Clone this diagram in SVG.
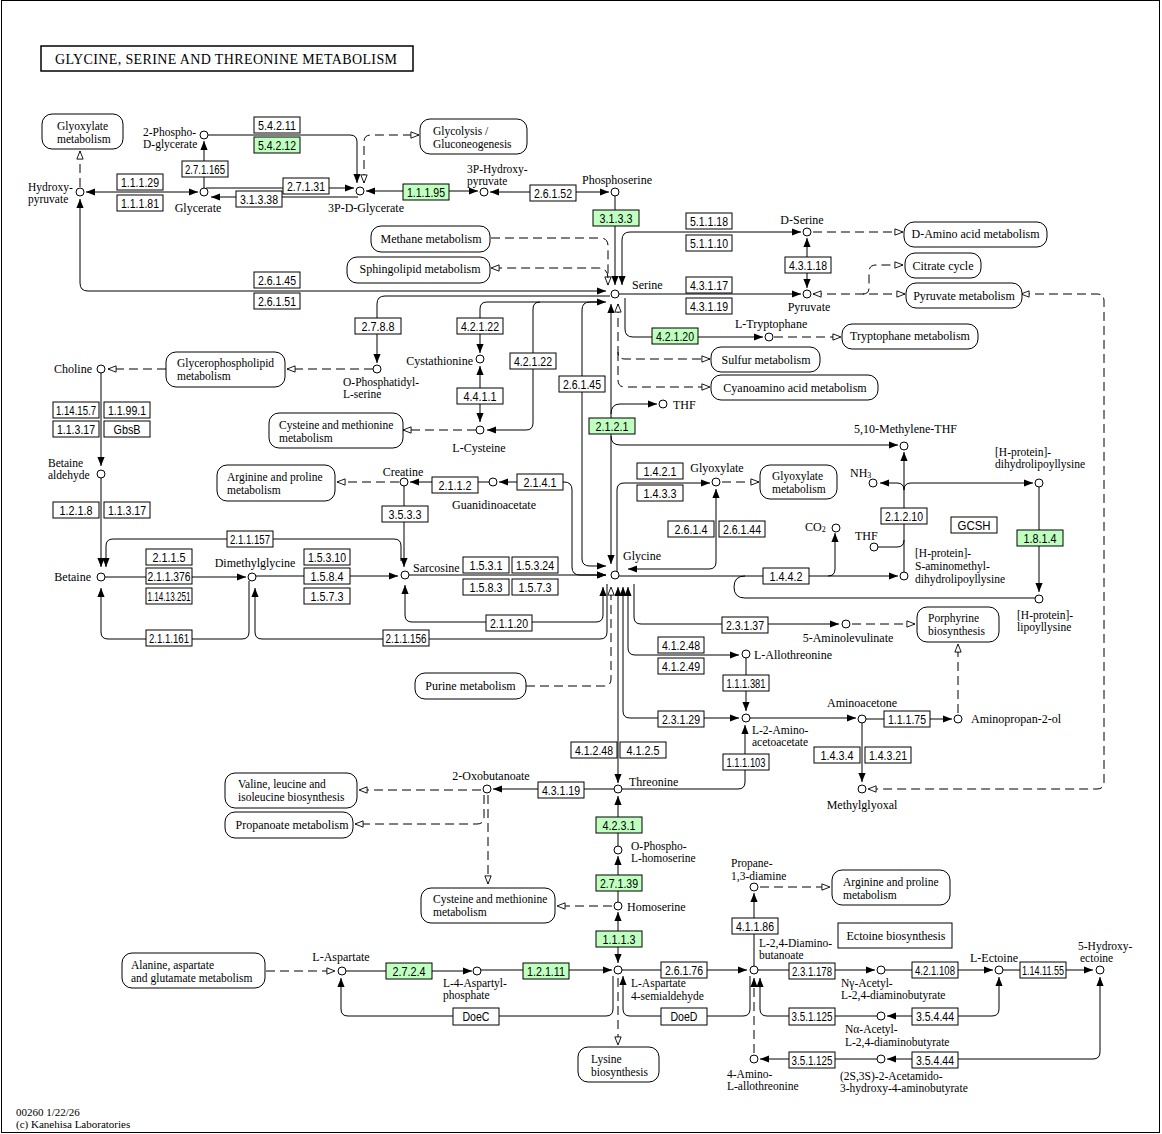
<svg xmlns="http://www.w3.org/2000/svg" width="1162" height="1134" viewBox="0 0 1162 1134">
<style>
text{font-family:"Liberation Serif","Times New Roman",serif;font-size:12px;fill:#000}
.ml{font-size:11.5px}
.et{font-family:"Liberation Sans",Arial,sans-serif;font-size:13px;text-anchor:middle}
.eb{fill:#fff;stroke:#000;stroke-width:1}
.eg{fill:#bfffbf;stroke:#000;stroke-width:1}
.mb{fill:#fff;stroke:#000;stroke-width:1}
.cc{fill:#fff;stroke:#000;stroke-width:1}
.l{fill:none;stroke:#000;stroke-width:1}
.d{fill:none;stroke:#000;stroke-width:1;stroke-dasharray:9,5}
.ae{marker-end:url(#a)}
.ab{marker-start:url(#a);marker-end:url(#a)}
.oe{marker-end:url(#o)}
.ob{marker-start:url(#o);marker-end:url(#o)}
.mid{text-anchor:middle}
.end{text-anchor:end}
.sub{font-size:8px}
.ttl{font-size:14px}
.ft{font-size:11px}
</style>
<defs>
<marker id="a" viewBox="0 0 10 8" refX="10" refY="4" markerWidth="9" markerHeight="7.2" orient="auto-start-reverse" markerUnits="userSpaceOnUse"><path d="M0,0L10,4L0,8z" fill="#000"/></marker>
<marker id="o" viewBox="0 0 10 8" refX="9.5" refY="4" markerWidth="9" markerHeight="7.2" orient="auto-start-reverse" markerUnits="userSpaceOnUse"><path d="M0.5,0.5L9.5,4L0.5,7.5z" fill="#fff" stroke="#000" stroke-width="1"/></marker>
</defs>
<rect x="0" y="0" width="1162" height="1134" fill="#fff"/>
<rect x="1.5" y="0.5" width="1158" height="1132" fill="none" stroke="#000"/>
<g id="title"><rect x="41" y="46" width="372" height="25" fill="#fff" stroke="#000" stroke-width="1.5"/><text class="ttl" x="55" y="64" textLength="342" lengthAdjust="spacing">GLYCINE, SERINE AND THREONINE METABOLISM</text></g>

<g id="connectors">
<path class="l ab" d="M86,192H198"/>
<path class="l ae" d="M204,192V141"/>
<path class="l ae" d="M204,135H350Q357,135 357,142V183"/>
<path class="l ae" d="M206,188H354"/>
<path class="l ae" d="M358,197H211"/>
<path class="l ab" d="M366,191H478"/>
<path class="l ab" d="M490,192H609"/>
<path class="l ae" d="M615,192V285"/>
<path class="l ab" d="M801,232H630Q622,232 622,240V285"/>
<path class="d oe" d="M491,238H600Q608,238 608,246V285"/>
<path class="d oe" d="M608,278Q608,268 598,268H491"/>
<path class="l ab" d="M80,199V283Q80,291 88,291H606"/>
<path class="l ae" d="M610,296H385Q377,296 377,304V363"/>
<path class="l ab" d="M606,302H540Q533,302 533,309V423Q533,430 526,430H487"/>
<path class="l ae" d="M540,302H487Q480,302 480,309V353"/>
<path class="l ab" d="M480,366V422"/>
<path class="d oe" d="M476,430H403"/>
<path class="l ae" d="M600,302H590Q582,302 582,310V559Q582,566 590,566H606"/>
<path class="l ab" d="M611,304V564"/>
<path class="l ae" d="M611,414Q611,404 620,404H657"/>
<path class="l ae" d="M611,436Q611,445 620,445H898"/>
<path class="d ob" d="M618,304V352Q618,359 625,359H710"/>
<path class="d oe" d="M618,352V380Q618,387 625,387H710"/>
<path class="l ae" d="M625,298V329Q625,337 633,337H763"/>
<path class="d oe" d="M774,337H841"/>
<path class="l ae" d="M619,294H801"/>
<path class="l ab" d="M807,238V288"/>
<path class="d oe" d="M813,232H903"/>
<path class="d ob" d="M813,294H905"/>
<path class="d oe" d="M863,294Q869,294 869,288V272Q869,265 876,265H903"/>
<path class="d ob" d="M1021,294H1097Q1104,294 1104,301V782Q1104,789 1097,789H868"/>
<path class="d oe" d="M166,369H108"/>
<path class="d oe" d="M373,369H287"/>
<path class="l ae" d="M101,369V466"/>
<path class="l ae" d="M101,474V567"/>
<path class="l ae" d="M401,561V546Q401,539 394,539H113Q106,539 106,546V567"/>
<path class="l ae" d="M404,482V567"/>
<path class="l ae" d="M493,482H410"/>
<path class="d oe" d="M399,482H337"/>
<path class="l ab" d="M499,482H564Q572,482 572,490V567Q572,575 580,575H606"/>
<path class="l ae" d="M101,577H246"/>
<path class="l ae" d="M252,576H398"/>
<path class="l ae" d="M405,575H606"/>
<path class="l ae" d="M249,581V632Q249,639 242,639H108Q101,639 101,632V588"/>
<path class="l ae" d="M607,584V632Q607,639 600,639H262Q255,639 255,632V588"/>
<path class="l ab" d="M405,585V615Q405,622 412,622H596Q603,622 603,615V587"/>
<path class="d oe" d="M526,686H604Q611,686 611,679V587"/>
<path class="l ab" d="M618,587V783"/>
<path class="l ab" d="M623,587V711Q623,718 630,718H739"/>
<path class="l ab" d="M628,587V648Q628,655 635,655H739"/>
<path class="l ae" d="M634,584V617Q634,624 641,624H839"/>
<path class="d oe" d="M852,624H915"/>
<path class="d oe" d="M958,713V644"/>
<path class="l ae" d="M746,654V711"/>
<path class="l ae" d="M618,789H738Q745,789 745,782V725"/>
<path class="l ae" d="M746,718H856"/>
<path class="l ae" d="M862,719H952"/>
<path class="l ae" d="M862,719V782"/>
<path class="l ae" d="M618,789H493"/>
<path class="d oe" d="M481,790H359"/>
<path class="d oe" d="M484,795V817Q484,824 477,824H355"/>
<path class="d oe" d="M488,795V884"/>
<path class="l ae" d="M618,850V796"/>
<path class="l ae" d="M618,906V856"/>
<path class="d oe" d="M612,906H557"/>
<path class="l ab" d="M618,912V963"/>
<path class="l ae" d="M342,971H472"/>
<path class="l ae" d="M477,970H612"/>
<path class="d oe" d="M266,971H335"/>
<path class="l ae" d="M613,976V1009Q613,1016 606,1016H348Q341,1016 341,1009V978"/>
<path class="l ae" d="M750,976V1009Q750,1016 743,1016H630Q623,1016 623,1009V976"/>
<path class="d oe" d="M618,978V1045"/>
<path class="l ae" d="M618,970H747"/>
<path class="l ae" d="M754,970V893"/>
<path class="d oe" d="M760,887H830"/>
<path class="l ae" d="M754,970H875"/>
<path class="l ae" d="M881,970H993"/>
<path class="l ae" d="M999,970H1093"/>
<path class="l ab" d="M999,977V1009Q999,1016 992,1016H887"/>
<path class="l ae" d="M881,1016H767Q760,1016 760,1009V978"/>
<path class="d ae" d="M754,1053V978"/>
<path class="l ae" d="M881,1059H760"/>
<path class="l ab" d="M1100,977V1052Q1100,1059 1093,1059H887"/>
<path class="l ae" d="M617,572V490Q617,483 624,483H710"/>
<path class="l ab" d="M716,489V562Q716,569 709,569H628"/>
<path class="d oe" d="M722,482H759"/>
<path class="l ae" d="M615,576H898"/>
<path class="l ae" d="M828,576Q835,576 835,569V533"/>
<path class="l" d="M1039,598H745Q734,598 734,587Q734,576 745,576"/>
<path class="l ae" d="M904,576V452"/>
<path class="l ae" d="M904,490Q904,483 897,483H880"/>
<path class="l ae" d="M904,490Q904,483 911,483H1033"/>
<path class="l" d="M874,547H897Q904,547 904,540"/>
<path class="l ae" d="M1039,483V592"/>
<path class="d oe" d="M80,187V151"/>
<path class="d ob" d="M364,183V142Q364,135 371,135H419"/>
</g>

<g id="maps">
<g id="m-glyoxylate-1"><rect class="mb" x="42" y="114" width="81" height="35" rx="10"/><text class="ml" x="57" y="130.1">Glyoxylate<tspan x="57" dy="12.8">metabolism</tspan></text></g>
<g id="m-glycolysis"><rect class="mb" x="420" y="119" width="107" height="35" rx="10"/><text class="ml" x="433" y="135.4">Glycolysis /<tspan x="433" dy="12.8">Gluconeogenesis</tspan></text></g>
<g id="m-methane"><rect class="mb" x="371" y="226" width="119" height="26" rx="10"/><text class="mid" x="431" y="243">Methane metabolism</text></g>
<g id="m-sphingolipid"><rect class="mb" x="347" y="257" width="143" height="26" rx="10"/><text class="mid" x="420" y="273">Sphingolipid metabolism</text></g>
<g id="m-damino"><rect class="mb" x="904" y="222" width="143" height="25" rx="10"/><text class="mid" x="975.5" y="238">D-Amino acid metabolism</text></g>
<g id="m-citrate"><rect class="mb" x="905" y="253" width="76" height="25" rx="10"/><text class="mid" x="943" y="269.5">Citrate cycle</text></g>
<g id="m-pyruvate"><rect class="mb" x="906" y="283" width="116" height="25" rx="10"/><text class="mid" x="964" y="299.5">Pyruvate metabolism</text></g>
<g id="m-tryptophane"><rect class="mb" x="842" y="324" width="136" height="25" rx="10"/><text class="mid" x="910" y="340">Tryptophane metabolism</text></g>
<g id="m-sulfur"><rect class="mb" x="711" y="347" width="109" height="25" rx="10"/><text class="mid" x="766" y="363.5">Sulfur metabolism</text></g>
<g id="m-cyanoamino"><rect class="mb" x="711" y="375" width="167" height="25" rx="10"/><text class="mid" x="795" y="392">Cyanoamino acid metabolism</text></g>
<g id="m-glycerophospholipid"><rect class="mb" x="166" y="352" width="119" height="35" rx="10"/><text class="ml" x="177" y="367.1">Glycerophospholipid<tspan x="177" dy="12.8">metabolism</tspan></text></g>
<g id="m-cysmet-1"><rect class="mb" x="269" y="413" width="134" height="35" rx="10"/><text class="ml" x="279" y="428.9">Cysteine and methionine<tspan x="279" dy="12.8">metabolism</tspan></text></g>
<g id="m-arginine-1"><rect class="mb" x="217" y="465" width="118" height="36" rx="10"/><text class="ml" x="227" y="480.9">Arginine and proline<tspan x="227" dy="12.8">metabolism</tspan></text></g>
<g id="m-glyoxylate-2"><rect class="mb" x="760" y="465" width="77" height="34" rx="10"/><text class="ml" x="772" y="480.1">Glyoxylate<tspan x="772" dy="12.8">metabolism</tspan></text></g>
<g id="m-porphyrine"><rect class="mb" x="917" y="607" width="82" height="35" rx="10"/><text class="ml" x="928" y="622.4">Porphyrine<tspan x="928" dy="12.8">biosynthesis</tspan></text></g>
<g id="m-purine"><rect class="mb" x="415" y="673" width="111" height="26" rx="10"/><text class="mid" x="470.5" y="690">Purine metabolism</text></g>
<g id="m-valine"><rect class="mb" x="225" y="773" width="132" height="35" rx="10"/><text class="ml" x="238" y="788.1">Valine, leucine and<tspan x="238" dy="12.8">isoleucine biosynthesis</tspan></text></g>
<g id="m-propanoate"><rect class="mb" x="225" y="812" width="128" height="26" rx="10"/><text class="mid" x="292" y="829">Propanoate metabolism</text></g>
<g id="m-cysmet-2"><rect class="mb" x="421" y="888" width="134" height="35" rx="10"/><text class="ml" x="433" y="903.1">Cysteine and methionine<tspan x="433" dy="12.8">metabolism</tspan></text></g>
<g id="m-arginine-2"><rect class="mb" x="832" y="870" width="118" height="35" rx="10"/><text class="ml" x="843" y="885.9">Arginine and proline<tspan x="843" dy="12.8">metabolism</tspan></text></g>
<g id="m-ectoine"><rect class="mb" x="838" y="923" width="114" height="25"/><text class="mid" x="896" y="939.5">Ectoine biosynthesis</text></g>
<g id="m-alanine"><rect class="mb" x="122" y="953" width="143" height="35" rx="10"/><text class="ml" x="131" y="969.1">Alanine, aspartate<tspan x="131" dy="12.8">and glutamate metabolism</tspan></text></g>
<g id="m-lysine"><rect class="mb" x="578" y="1047" width="81" height="35" rx="10"/><text class="ml" x="591" y="1063.1">Lysine<tspan x="591" dy="12.8">biosynthesis</tspan></text></g>
</g>

<g id="enzymes">
<g id="e1"><rect class="eb" x="254" y="117" width="46" height="16"/><text class="et" x="277" y="129.5" textLength="38" lengthAdjust="spacingAndGlyphs">5.4.2.11</text></g>
<g id="e2"><rect class="eg" x="254" y="137" width="46" height="16"/><text class="et" x="277" y="149.5" textLength="38" lengthAdjust="spacingAndGlyphs">5.4.2.12</text></g>
<g id="e3"><rect class="eb" x="182" y="161" width="46" height="16"/><text class="et" x="205" y="173.5" textLength="40" lengthAdjust="spacingAndGlyphs">2.7.1.165</text></g>
<g id="e4"><rect class="eb" x="117" y="174" width="46" height="16"/><text class="et" x="140" y="186.5" textLength="38" lengthAdjust="spacingAndGlyphs">1.1.1.29</text></g>
<g id="e5"><rect class="eb" x="117" y="195" width="46" height="16"/><text class="et" x="140" y="207.5" textLength="38" lengthAdjust="spacingAndGlyphs">1.1.1.81</text></g>
<g id="e6"><rect class="eb" x="283" y="178" width="46" height="16"/><text class="et" x="306" y="190.5" textLength="38" lengthAdjust="spacingAndGlyphs">2.7.1.31</text></g>
<g id="e7"><rect class="eb" x="236" y="191" width="46" height="16"/><text class="et" x="259" y="203.5" textLength="38" lengthAdjust="spacingAndGlyphs">3.1.3.38</text></g>
<g id="e8"><rect class="eg" x="403" y="184" width="46" height="16"/><text class="et" x="426" y="196.5" textLength="38" lengthAdjust="spacingAndGlyphs">1.1.1.95</text></g>
<g id="e9"><rect class="eb" x="530" y="185" width="46" height="16"/><text class="et" x="553" y="197.5" textLength="38" lengthAdjust="spacingAndGlyphs">2.6.1.52</text></g>
<g id="e10"><rect class="eg" x="593" y="210" width="46" height="16"/><text class="et" x="616" y="222.5" textLength="33" lengthAdjust="spacingAndGlyphs">3.1.3.3</text></g>
<g id="e11"><rect class="eb" x="686" y="213" width="46" height="16"/><text class="et" x="709" y="225.5" textLength="38" lengthAdjust="spacingAndGlyphs">5.1.1.18</text></g>
<g id="e12"><rect class="eb" x="686" y="235" width="46" height="16"/><text class="et" x="709" y="247.5" textLength="38" lengthAdjust="spacingAndGlyphs">5.1.1.10</text></g>
<g id="e13"><rect class="eb" x="785" y="257" width="46" height="16"/><text class="et" x="808" y="269.5" textLength="38" lengthAdjust="spacingAndGlyphs">4.3.1.18</text></g>
<g id="e14"><rect class="eb" x="686" y="277" width="46" height="16"/><text class="et" x="709" y="289.5" textLength="38" lengthAdjust="spacingAndGlyphs">4.3.1.17</text></g>
<g id="e15"><rect class="eb" x="686" y="298" width="46" height="16"/><text class="et" x="709" y="310.5" textLength="38" lengthAdjust="spacingAndGlyphs">4.3.1.19</text></g>
<g id="e16"><rect class="eb" x="254" y="272" width="46" height="16"/><text class="et" x="277" y="284.5" textLength="38" lengthAdjust="spacingAndGlyphs">2.6.1.45</text></g>
<g id="e17"><rect class="eb" x="254" y="293" width="46" height="16"/><text class="et" x="277" y="305.5" textLength="38" lengthAdjust="spacingAndGlyphs">2.6.1.51</text></g>
<g id="e18"><rect class="eb" x="355" y="318" width="46" height="16"/><text class="et" x="378" y="330.5" textLength="33" lengthAdjust="spacingAndGlyphs">2.7.8.8</text></g>
<g id="e19"><rect class="eb" x="457" y="318" width="46" height="16"/><text class="et" x="480" y="330.5" textLength="38" lengthAdjust="spacingAndGlyphs">4.2.1.22</text></g>
<g id="e20"><rect class="eg" x="652" y="328" width="46" height="16"/><text class="et" x="675" y="340.5" textLength="38" lengthAdjust="spacingAndGlyphs">4.2.1.20</text></g>
<g id="e21"><rect class="eb" x="510" y="353" width="46" height="16"/><text class="et" x="533" y="365.5" textLength="38" lengthAdjust="spacingAndGlyphs">4.2.1.22</text></g>
<g id="e22"><rect class="eb" x="457" y="388" width="46" height="16"/><text class="et" x="480" y="400.5" textLength="33" lengthAdjust="spacingAndGlyphs">4.4.1.1</text></g>
<g id="e23"><rect class="eb" x="559" y="376" width="46" height="16"/><text class="et" x="582" y="388.5" textLength="38" lengthAdjust="spacingAndGlyphs">2.6.1.45</text></g>
<g id="e24"><rect class="eg" x="589" y="418" width="46" height="16"/><text class="et" x="612" y="430.5" textLength="33" lengthAdjust="spacingAndGlyphs">2.1.2.1</text></g>
<g id="e25"><rect class="eb" x="53" y="402" width="46" height="16"/><text class="et" x="76" y="414.5" textLength="40" lengthAdjust="spacingAndGlyphs">1.14.15.7</text></g>
<g id="e26"><rect class="eb" x="104" y="402" width="46" height="16"/><text class="et" x="127" y="414.5" textLength="38" lengthAdjust="spacingAndGlyphs">1.1.99.1</text></g>
<g id="e27"><rect class="eb" x="53" y="421" width="46" height="16"/><text class="et" x="76" y="433.5" textLength="38" lengthAdjust="spacingAndGlyphs">1.1.3.17</text></g>
<g id="e28"><rect class="eb" x="104" y="421" width="46" height="16"/><text class="et" x="127" y="433.5" textLength="27" lengthAdjust="spacingAndGlyphs">GbsB</text></g>
<g id="e29"><rect class="eb" x="53" y="502" width="46" height="16"/><text class="et" x="76" y="514.5" textLength="33" lengthAdjust="spacingAndGlyphs">1.2.1.8</text></g>
<g id="e30"><rect class="eb" x="104" y="502" width="46" height="16"/><text class="et" x="127" y="514.5" textLength="38" lengthAdjust="spacingAndGlyphs">1.1.3.17</text></g>
<g id="e31"><rect class="eb" x="432" y="477" width="46" height="16"/><text class="et" x="455" y="489.5" textLength="33" lengthAdjust="spacingAndGlyphs">2.1.1.2</text></g>
<g id="e32"><rect class="eb" x="517" y="474" width="46" height="16"/><text class="et" x="540" y="486.5" textLength="33" lengthAdjust="spacingAndGlyphs">2.1.4.1</text></g>
<g id="e33"><rect class="eb" x="382" y="506" width="46" height="16"/><text class="et" x="405" y="518.5" textLength="33" lengthAdjust="spacingAndGlyphs">3.5.3.3</text></g>
<g id="e34"><rect class="eb" x="637" y="463" width="46" height="16"/><text class="et" x="660" y="475.5" textLength="33" lengthAdjust="spacingAndGlyphs">1.4.2.1</text></g>
<g id="e35"><rect class="eb" x="637" y="485" width="46" height="16"/><text class="et" x="660" y="497.5" textLength="33" lengthAdjust="spacingAndGlyphs">1.4.3.3</text></g>
<g id="e36"><rect class="eb" x="668" y="521" width="46" height="16"/><text class="et" x="691" y="533.5" textLength="33" lengthAdjust="spacingAndGlyphs">2.6.1.4</text></g>
<g id="e37"><rect class="eb" x="719" y="521" width="46" height="16"/><text class="et" x="742" y="533.5" textLength="38" lengthAdjust="spacingAndGlyphs">2.6.1.44</text></g>
<g id="e38"><rect class="eb" x="881" y="508" width="46" height="16"/><text class="et" x="904" y="520.5" textLength="38" lengthAdjust="spacingAndGlyphs">2.1.2.10</text></g>
<g id="e39"><rect class="eb" x="951" y="517" width="46" height="16"/><text class="et" x="974" y="529.5" textLength="33" lengthAdjust="spacingAndGlyphs">GCSH</text></g>
<g id="e40"><rect class="eg" x="1017" y="530" width="46" height="16"/><text class="et" x="1040" y="542.5" textLength="33" lengthAdjust="spacingAndGlyphs">1.8.1.4</text></g>
<g id="e41"><rect class="eb" x="227" y="531" width="46" height="16"/><text class="et" x="250" y="543.5" textLength="40" lengthAdjust="spacingAndGlyphs">2.1.1.157</text></g>
<g id="e42"><rect class="eb" x="146" y="549" width="46" height="16"/><text class="et" x="169" y="561.5" textLength="33" lengthAdjust="spacingAndGlyphs">2.1.1.5</text></g>
<g id="e43"><rect class="eb" x="146" y="568" width="46" height="16"/><text class="et" x="169" y="580.5" textLength="43" lengthAdjust="spacingAndGlyphs">2.1.1.376</text></g>
<g id="e44"><rect class="eb" x="146" y="588" width="46" height="16"/><text class="et" x="169" y="600.5" textLength="43" lengthAdjust="spacingAndGlyphs">1.14.13.251</text></g>
<g id="e45"><rect class="eb" x="304" y="549" width="46" height="16"/><text class="et" x="327" y="561.5" textLength="38" lengthAdjust="spacingAndGlyphs">1.5.3.10</text></g>
<g id="e46"><rect class="eb" x="304" y="568" width="46" height="16"/><text class="et" x="327" y="580.5" textLength="33" lengthAdjust="spacingAndGlyphs">1.5.8.4</text></g>
<g id="e47"><rect class="eb" x="304" y="588" width="46" height="16"/><text class="et" x="327" y="600.5" textLength="33" lengthAdjust="spacingAndGlyphs">1.5.7.3</text></g>
<g id="e48"><rect class="eb" x="463" y="557" width="46" height="16"/><text class="et" x="486" y="569.5" textLength="33" lengthAdjust="spacingAndGlyphs">1.5.3.1</text></g>
<g id="e49"><rect class="eb" x="512" y="557" width="46" height="16"/><text class="et" x="535" y="569.5" textLength="38" lengthAdjust="spacingAndGlyphs">1.5.3.24</text></g>
<g id="e50"><rect class="eb" x="463" y="579" width="46" height="16"/><text class="et" x="486" y="591.5" textLength="33" lengthAdjust="spacingAndGlyphs">1.5.8.3</text></g>
<g id="e51"><rect class="eb" x="512" y="579" width="46" height="16"/><text class="et" x="535" y="591.5" textLength="33" lengthAdjust="spacingAndGlyphs">1.5.7.3</text></g>
<g id="e52"><rect class="eb" x="763" y="568" width="46" height="16"/><text class="et" x="786" y="580.5" textLength="33" lengthAdjust="spacingAndGlyphs">1.4.4.2</text></g>
<g id="e53"><rect class="eb" x="486" y="615" width="46" height="16"/><text class="et" x="509" y="627.5" textLength="38" lengthAdjust="spacingAndGlyphs">2.1.1.20</text></g>
<g id="e54"><rect class="eb" x="146" y="630" width="46" height="16"/><text class="et" x="169" y="642.5" textLength="40" lengthAdjust="spacingAndGlyphs">2.1.1.161</text></g>
<g id="e55"><rect class="eb" x="383" y="630" width="46" height="16"/><text class="et" x="406" y="642.5" textLength="41" lengthAdjust="spacingAndGlyphs">2.1.1.156</text></g>
<g id="e56"><rect class="eb" x="722" y="617" width="46" height="16"/><text class="et" x="745" y="629.5" textLength="38" lengthAdjust="spacingAndGlyphs">2.3.1.37</text></g>
<g id="e57"><rect class="eb" x="658" y="637" width="46" height="16"/><text class="et" x="681" y="649.5" textLength="38" lengthAdjust="spacingAndGlyphs">4.1.2.48</text></g>
<g id="e58"><rect class="eb" x="658" y="658" width="46" height="16"/><text class="et" x="681" y="670.5" textLength="38" lengthAdjust="spacingAndGlyphs">4.1.2.49</text></g>
<g id="e59"><rect class="eb" x="723" y="675" width="46" height="16"/><text class="et" x="746" y="687.5" textLength="39" lengthAdjust="spacingAndGlyphs">1.1.1.381</text></g>
<g id="e60"><rect class="eb" x="658" y="711" width="46" height="16"/><text class="et" x="681" y="723.5" textLength="38" lengthAdjust="spacingAndGlyphs">2.3.1.29</text></g>
<g id="e61"><rect class="eb" x="884" y="711" width="46" height="16"/><text class="et" x="907" y="723.5" textLength="38" lengthAdjust="spacingAndGlyphs">1.1.1.75</text></g>
<g id="e62"><rect class="eb" x="571" y="742" width="46" height="16"/><text class="et" x="594" y="754.5" textLength="38" lengthAdjust="spacingAndGlyphs">4.1.2.48</text></g>
<g id="e63"><rect class="eb" x="620" y="742" width="46" height="16"/><text class="et" x="643" y="754.5" textLength="33" lengthAdjust="spacingAndGlyphs">4.1.2.5</text></g>
<g id="e64"><rect class="eb" x="814" y="747" width="46" height="16"/><text class="et" x="837" y="759.5" textLength="33" lengthAdjust="spacingAndGlyphs">1.4.3.4</text></g>
<g id="e65"><rect class="eb" x="865" y="747" width="46" height="16"/><text class="et" x="888" y="759.5" textLength="38" lengthAdjust="spacingAndGlyphs">1.4.3.21</text></g>
<g id="e66"><rect class="eb" x="723" y="754" width="46" height="16"/><text class="et" x="746" y="766.5" textLength="39" lengthAdjust="spacingAndGlyphs">1.1.1.103</text></g>
<g id="e67"><rect class="eb" x="538" y="782" width="46" height="16"/><text class="et" x="561" y="794.5" textLength="38" lengthAdjust="spacingAndGlyphs">4.3.1.19</text></g>
<g id="e68"><rect class="eg" x="596" y="817" width="46" height="16"/><text class="et" x="619" y="829.5" textLength="33" lengthAdjust="spacingAndGlyphs">4.2.3.1</text></g>
<g id="e69"><rect class="eg" x="596" y="875" width="46" height="16"/><text class="et" x="619" y="887.5" textLength="38" lengthAdjust="spacingAndGlyphs">2.7.1.39</text></g>
<g id="e70"><rect class="eb" x="732" y="918" width="46" height="16"/><text class="et" x="755" y="930.5" textLength="38" lengthAdjust="spacingAndGlyphs">4.1.1.86</text></g>
<g id="e71"><rect class="eg" x="596" y="931" width="46" height="16"/><text class="et" x="619" y="943.5" textLength="33" lengthAdjust="spacingAndGlyphs">1.1.1.3</text></g>
<g id="e72"><rect class="eg" x="386" y="963" width="46" height="16"/><text class="et" x="409" y="975.5" textLength="33" lengthAdjust="spacingAndGlyphs">2.7.2.4</text></g>
<g id="e73"><rect class="eg" x="523" y="963" width="46" height="16"/><text class="et" x="546" y="975.5" textLength="38" lengthAdjust="spacingAndGlyphs">1.2.1.11</text></g>
<g id="e74"><rect class="eb" x="661" y="962" width="46" height="16"/><text class="et" x="684" y="974.5" textLength="38" lengthAdjust="spacingAndGlyphs">2.6.1.76</text></g>
<g id="e75"><rect class="eb" x="789" y="963" width="46" height="16"/><text class="et" x="812" y="975.5" textLength="40" lengthAdjust="spacingAndGlyphs">2.3.1.178</text></g>
<g id="e76"><rect class="eb" x="912" y="962" width="46" height="16"/><text class="et" x="935" y="974.5" textLength="40" lengthAdjust="spacingAndGlyphs">4.2.1.108</text></g>
<g id="e77"><rect class="eb" x="1020" y="962" width="46" height="16"/><text class="et" x="1043" y="974.5" textLength="42" lengthAdjust="spacingAndGlyphs">1.14.11.55</text></g>
<g id="e78"><rect class="eb" x="453" y="1008" width="46" height="17"/><text class="et" x="476" y="1021" textLength="27" lengthAdjust="spacingAndGlyphs">DoeC</text></g>
<g id="e79"><rect class="eb" x="661" y="1008" width="46" height="17"/><text class="et" x="684" y="1021" textLength="27" lengthAdjust="spacingAndGlyphs">DoeD</text></g>
<g id="e80"><rect class="eb" x="789" y="1008" width="46" height="17"/><text class="et" x="812" y="1021" textLength="41" lengthAdjust="spacingAndGlyphs">3.5.1.125</text></g>
<g id="e81"><rect class="eb" x="912" y="1008" width="46" height="17"/><text class="et" x="935" y="1021" textLength="38" lengthAdjust="spacingAndGlyphs">3.5.4.44</text></g>
<g id="e82"><rect class="eb" x="789" y="1052" width="46" height="16"/><text class="et" x="812" y="1064.5" textLength="41" lengthAdjust="spacingAndGlyphs">3.5.1.125</text></g>
<g id="e83"><rect class="eb" x="912" y="1052" width="46" height="16"/><text class="et" x="935" y="1064.5" textLength="38" lengthAdjust="spacingAndGlyphs">3.5.4.44</text></g>
</g>

<g id="compounds">
<g id="c-hydroxypyruvate"><circle class="cc" cx="80" cy="192" r="4"/><text class="ml" x="28" y="190.6">Hydroxy-<tspan x="28" dy="12.8">pyruvate</tspan></text></g>
<g id="c-glycerate"><circle class="cc" cx="204" cy="192" r="4"/><text class="mid" x="198" y="212">Glycerate</text></g>
<g id="c-2pg"><circle class="cc" cx="204" cy="135" r="4"/><text class="ml" x="143" y="135.6">2-Phospho-<tspan x="143" dy="12.8">D-glycerate</tspan></text></g>
<g id="c-3pg"><circle class="cc" cx="360" cy="191" r="4"/><text class="mid" x="366" y="212">3P-D-Glycerate</text></g>
<g id="c-3php"><circle class="cc" cx="484" cy="192" r="4"/><text class="ml" x="467" y="172.6">3P-Hydroxy-<tspan x="467" dy="12.8">pyruvate</tspan></text></g>
<g id="c-phosphoserine"><circle class="cc" cx="615" cy="192" r="4"/><text class="mid" x="617" y="184">Phosphoserine</text></g>
<g id="c-serine"><circle class="cc" cx="615" cy="294" r="4"/><text x="632" y="289">Serine</text></g>
<g id="c-dserine"><circle class="cc" cx="807" cy="232" r="4"/><text class="mid" x="802" y="224">D-Serine</text></g>
<g id="c-pyruvate"><circle class="cc" cx="807" cy="294" r="4"/><text class="mid" x="809" y="311">Pyruvate</text></g>
<g id="c-ltrp"><circle class="cc" cx="769" cy="337" r="4"/><text x="735" y="328">L-Tryptophane</text></g>
<g id="c-thf1"><circle class="cc" cx="663" cy="404" r="4"/><text x="673" y="409">THF</text></g>
<g id="c-mthf"><circle class="cc" cx="904" cy="446" r="4"/><text x="854" y="433">5,10-Methylene-THF</text></g>
<g id="c-nh3"><circle class="cc" cx="873" cy="483" r="4"/><text x="850" y="477">NH<tspan class="sub" dy="1">3</tspan></text></g>
<g id="c-dihydrolipoyl"><circle class="cc" cx="1039" cy="483" r="4"/><text class="ml" x="995" y="455.6">[H-protein]-<tspan x="995" dy="12.8">dihydrolipoyllysine</tspan></text></g>
<g id="c-co2"><circle class="cc" cx="836" cy="528" r="4"/><text x="805" y="531">CO<tspan class="sub" dy="1">2</tspan></text></g>
<g id="c-thf2"><circle class="cc" cx="874" cy="547" r="4"/><text x="855" y="540">THF</text></g>
<g id="c-saminomethyl"><circle class="cc" cx="904" cy="576" r="4"/><text class="ml" x="915" y="557.2">[H-protein]-<tspan x="915" dy="12.8">S-aminomethyl-</tspan><tspan x="915" dy="12.8">dihydrolipoyllysine</tspan></text></g>
<g id="c-lipoyl"><circle class="cc" cx="1039" cy="599" r="4"/><text class="ml" x="1017" y="618.6">[H-protein]-<tspan x="1017" dy="12.8">lipoyllysine</tspan></text></g>
<g id="c-choline"><circle class="cc" cx="101" cy="369" r="4"/><text class="end" x="92" y="373">Choline</text></g>
<g id="c-ops"><circle class="cc" cx="377" cy="369" r="4"/><text class="ml" x="343" y="385.6">O-Phosphatidyl-<tspan x="343" dy="12.8">L-serine</tspan></text></g>
<g id="c-cystathionine"><circle class="cc" cx="480" cy="359" r="4"/><text class="end" x="473" y="365">Cystathionine</text></g>
<g id="c-cysteine"><circle class="cc" cx="480" cy="430" r="4"/><text class="mid" x="479" y="452">L-Cysteine</text></g>
<g id="c-betald"><circle class="cc" cx="101" cy="474" r="4"/><text class="ml" x="48" y="466.6">Betaine<tspan x="48" dy="12.8">aldehyde</tspan></text></g>
<g id="c-creatine"><circle class="cc" cx="404" cy="482" r="4"/><text class="mid" x="403" y="476">Creatine</text></g>
<g id="c-guanidinoacetate"><circle class="cc" cx="493" cy="482" r="4"/><text class="mid" x="494" y="509">Guanidinoacetate</text></g>
<g id="c-glyoxylate"><circle class="cc" cx="716" cy="482" r="4"/><text class="mid" x="717" y="472">Glyoxylate</text></g>
<g id="c-betaine"><circle class="cc" cx="101" cy="577" r="4"/><text class="end" x="91" y="581">Betaine</text></g>
<g id="c-dmg"><circle class="cc" cx="252" cy="577" r="4"/><text class="mid" x="255" y="567">Dimethylglycine</text></g>
<g id="c-sarcosine"><circle class="cc" cx="405" cy="575" r="4"/><text x="413" y="572">Sarcosine</text></g>
<g id="c-glycine"><circle class="cc" cx="615" cy="575" r="4"/><text x="623" y="560">Glycine</text></g>
<g id="c-ala5"><circle class="cc" cx="846" cy="624" r="4"/><text class="mid" x="848" y="642">5-Aminolevulinate</text></g>
<g id="c-allothr"><circle class="cc" cx="746" cy="654" r="4"/><text x="754" y="659">L-Allothreonine</text></g>
<g id="c-l2aa"><circle class="cc" cx="746" cy="718" r="4"/><text class="ml" x="752" y="733.6">L-2-Amino-<tspan x="752" dy="12.8">acetoacetate</tspan></text></g>
<g id="c-aminoacetone"><circle class="cc" cx="862" cy="719" r="4"/><text class="mid" x="862" y="707">Aminoacetone</text></g>
<g id="c-aminopropanol"><circle class="cc" cx="958" cy="719" r="4"/><text x="971" y="723">Aminopropan-2-ol</text></g>
<g id="c-methylglyoxal"><circle class="cc" cx="862" cy="789" r="4"/><text class="mid" x="862" y="809">Methylglyoxal</text></g>
<g id="c-threonine"><circle class="cc" cx="618" cy="789" r="4"/><text x="629" y="786">Threonine</text></g>
<g id="c-oxobutanoate"><circle class="cc" cx="487" cy="789" r="4"/><text class="mid" x="491" y="780">2-Oxobutanoate</text></g>
<g id="c-ophs"><circle class="cc" cx="618" cy="850" r="4"/><text class="ml" x="631" y="849.6">O-Phospho-<tspan x="631" dy="12.8">L-homoserine</tspan></text></g>
<g id="c-homoserine"><circle class="cc" cx="618" cy="906" r="4"/><text x="627" y="911">Homoserine</text></g>
<g id="c-asp"><circle class="cc" cx="342" cy="971" r="4"/><text class="mid" x="341" y="961">L-Aspartate</text></g>
<g id="c-asp4p"><circle class="cc" cx="477" cy="971" r="4"/><text class="ml" x="443" y="986.6">L-4-Aspartyl-<tspan x="443" dy="12.8">phosphate</tspan></text></g>
<g id="c-asa"><circle class="cc" cx="618" cy="970" r="4"/><text class="ml" x="631" y="986.9">L-Aspartate<tspan x="631" dy="12.8">4-semialdehyde</tspan></text></g>
<g id="c-propdiamine"><circle class="cc" cx="754" cy="887" r="4"/><text class="ml" x="731" y="866.9">Propane-<tspan x="731" dy="12.8">1,3-diamine</tspan></text></g>
<g id="c-dab"><circle class="cc" cx="754" cy="970" r="4"/><text class="ml" x="759" y="946.6">L-2,4-Diamino-<tspan x="759" dy="12.8">butanoate</tspan></text></g>
<g id="c-ngamma"><circle class="cc" cx="881" cy="970" r="4"/><text class="ml" x="841" y="986.6">Nγ-Acetyl-<tspan x="841" dy="12.8">L-2,4-diaminobutyrate</tspan></text></g>
<g id="c-ectoine"><circle class="cc" cx="999" cy="970" r="4"/><text class="mid" x="994" y="962">L-Ectoine</text></g>
<g id="c-hydroxyectoine"><circle class="cc" cx="1100" cy="970" r="4"/><text class="ml" x="1078" y="949.6">5-Hydroxy-<tspan x="1080" dy="12.8">ectoine</tspan></text></g>
<g id="c-nalpha"><circle class="cc" cx="881" cy="1016" r="4"/><text class="ml" x="845" y="1032.9">Nα-Acetyl-<tspan x="845" dy="12.8">L-2,4-diaminobutyrate</tspan></text></g>
<g id="c-aminoallothr"><circle class="cc" cx="754" cy="1059" r="4"/><text class="ml" x="727" y="1077.6">4-Amino-<tspan x="727" dy="12.8">L-allothreonine</tspan></text></g>
<g id="c-acetamido"><circle class="cc" cx="881" cy="1059" r="4"/><text class="ml" x="840" y="1079.6">(2S,3S)-2-Acetamido-<tspan x="840" dy="12.8">3-hydroxy-4-aminobutyrate</tspan></text></g>
</g>

<g id="footer"><text class="ft" x="16" y="1116">00260 1/22/26<tspan x="16" dy="12.4">(c) Kanehisa Laboratories</tspan></text></g>
</svg>
